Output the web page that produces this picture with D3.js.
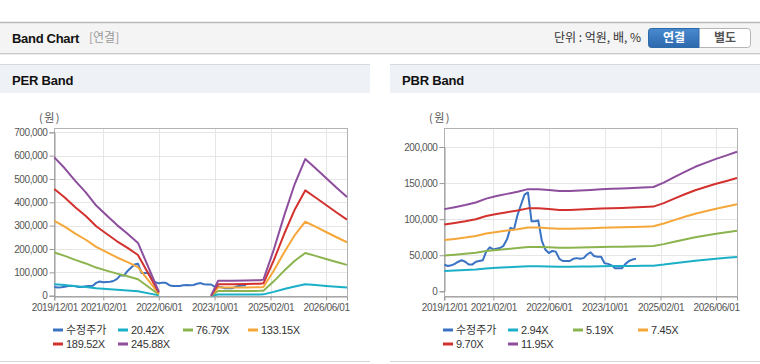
<!DOCTYPE html>
<html><head><meta charset="utf-8">
<script src="https://cdn.jsdelivr.net/npm/d3@7"></script>
<style>
body{margin:0;background:#fff;}
svg{display:block;font-family:"Liberation Sans",Arial,sans-serif;}
</style>
</head><body><svg id="c" width="760" height="364"></svg>
<script>
// ---------- DATA ----------
const priceDates = ["2019/12",
 "2020/01","2020/02","2020/03","2020/04","2020/05","2020/06","2020/07","2020/08","2020/09","2020/10","2020/11","2020/12",
 "2021/01","2021/02","2021/03","2021/04","2021/05","2021/06","2021/07","2021/08","2021/09","2021/10","2021/11","2021/12",
 "2022/01","2022/02","2022/03","2022/04","2022/05","2022/06","2022/07","2022/08","2022/09","2022/10","2022/11","2022/12",
 "2023/01","2023/02","2023/03","2023/04","2023/05","2023/06","2023/07","2023/08","2023/09","2023/10","2023/11","2023/12",
 "2024/01","2024/02","2024/03","2024/04","2024/05","2024/06","2024/07"];
// 수정주가 (원)
const priceValues = [37000,
 35000,36000,38000,41000,43000,41000,37000,37000,41000,42000,43000,55000,
 61000,58000,59000,60000,63000,72000,88000,86000,106000,120000,134000,137000,
 97000,97000,98000,70000,58000,53000,56000,55000,45000,42000,42000,42000,
 45000,46000,45000,46000,51000,54000,49000,48000,48000,39000,38000,36000,
 32000,32000,32000,38000,42000,44000,45000];

// PER band: EPS (원) per date; null = no band (negative earnings)
const perDates = ["2019/12","2020/03","2020/06","2020/09","2020/12","2021/03","2021/06","2021/09","2021/12","2022/06",
 "2022/09",
 "2023/09","2023/11","2024/03","2024/07","2024/11","2024/12","2025/03","2025/06","2025/09","2025/12","2026/03","2026/06","2026/09","2026/12"];
const perEps = [2410,2220,2000,1800,1570,1400,1230,1080,920,70,
 null,
 0,260,260,265,270,280,800,1400,1950,2380,2220,2050,1880,1720];
const perMultiples = [20.42, 76.79, 133.15, 189.52, 245.88];
const perLegend = ["수정주가","20.42X","76.79X","133.15X","189.52X","245.88X"];

// PBR band: BPS (원) per date
const pbrDates = ["2019/12","2020/03","2020/06","2020/09","2020/12","2021/03","2021/06","2021/09","2021/12",
 "2022/03","2022/06","2022/09","2022/12","2023/03","2023/06","2023/09","2023/12","2024/03","2024/06","2024/09","2024/12",
 "2025/03","2025/06","2025/09","2025/12","2026/03","2026/06","2026/09","2026/12"];
const pbrBps = [9530,9750,10000,10300,10750,11050,11300,11550,11850,
 11850,11750,11620,11620,11680,11750,11830,11880,11920,11980,12030,12100,
 12600,13250,13860,14440,14900,15360,15770,16180];
const pbrMultiples = [2.94, 5.19, 7.45, 9.70, 11.95];
const pbrLegend = ["수정주가","2.94X","5.19X","7.45X","9.70X","11.95X"];

const xTickLabels = ["2019/12/01","2021/02/01","2022/06/01","2023/10/01","2025/02/01","2026/06/01"];
const xDomainLabels = ["2019/12/01","2026/12/01"];
const perYTicks = [0,100000,200000,300000,400000,500000,600000,700000];
const pbrYTicks = [0,50000,100000,150000,200000];
const seriesColors = ["#3a72c4","#1bb0c8","#8cb44e","#f5a73a","#d2312e","#8e4e9e"];

// ---------- DRAW ----------
const svg = d3.select("#c");
const pm = d3.timeParse("%Y/%m");
const pd = d3.timeParse("%Y/%m/%d");
const KR = "'Noto Sans CJK KR',sans-serif";

// top header bar
svg.append("rect").attr("x",0).attr("y",22).attr("width",760).attr("height",31).attr("fill","#f4f4f4");
svg.append("line").attr("x1",0).attr("x2",760).attr("y1",22.5).attr("y2",22.5).attr("stroke","#b9b9b9").attr("stroke-width",1.5);
svg.append("line").attr("x1",0).attr("x2",760).attr("y1",53.5).attr("y2",53.5).attr("stroke","#c9c9c9");
svg.append("line").attr("x1",0).attr("x2",760).attr("y1",54.5).attr("y2",54.5).attr("stroke","#ececec");
svg.append("text").attr("x",12).attr("y",38).attr("dy","0.35em").attr("font-size",13).attr("font-weight","bold")
  .attr("fill","#111").attr("letter-spacing","-0.3").text("Band Chart");
svg.append("text").attr("x",89).attr("y",38).attr("dy","0.35em").attr("font-size",12).attr("fill","#999")
  .attr("font-family",KR).text("[연결]");
svg.append("text").attr("x",641).attr("y",38).attr("dy","0.35em").attr("font-size",12).attr("fill","#333")
  .attr("text-anchor","end").attr("font-family",KR).text("단위 : 억원, 배, %");

const defs = svg.append("defs");
const g1 = defs.append("linearGradient").attr("id","btn").attr("x1",0).attr("x2",0).attr("y1",0).attr("y2",1);
g1.append("stop").attr("offset","0").attr("stop-color","#4a8ad0");
g1.append("stop").attr("offset","1").attr("stop-color","#2c68ac");
svg.append("rect").attr("x",648.5).attr("y",28.5).attr("width",102).attr("height",19).attr("rx",3)
  .attr("fill","#fff").attr("stroke","#b5b5b5");
svg.append("path").attr("d","M651.5,28.5 H699 V47.5 H651.5 A3,3 0 0 1 648.5,44.5 V31.5 A3,3 0 0 1 651.5,28.5 Z")
  .attr("fill","url(#btn)").attr("stroke","#2e69aa");
svg.append("text").attr("x",674).attr("y",38).attr("dy","0.35em").attr("text-anchor","middle").attr("font-size",12)
  .attr("font-weight","bold").attr("fill","#fff").attr("font-family",KR).text("연결");
svg.append("text").attr("x",725).attr("y",38).attr("dy","0.35em").attr("text-anchor","middle").attr("font-size",12)
  .attr("font-weight","bold").attr("fill","#555").attr("font-family",KR).text("별도");

function drawPanel(x0, title, bandDates, base, multiples, legend, yTicks, yMax, yZeroPx, yMaxPx) {
  const g = svg.append("g");
  // panel header
  g.append("rect").attr("x",x0).attr("y",64).attr("width",370).attr("height",29).attr("fill","#eef2f7");
  g.append("line").attr("x1",x0).attr("x2",x0+370).attr("y1",64.5).attr("y2",64.5).attr("stroke","#d6d9de");
  g.append("text").attr("x",x0+12).attr("y",80).attr("dy","0.35em").attr("font-size",13).attr("font-weight","bold")
    .attr("fill","#111").attr("letter-spacing","-0.2").text(title);
  g.append("line").attr("x1",x0).attr("x2",x0+370).attr("y1",361.5).attr("y2",361.5).attr("stroke","#d6d6d6");

  const L = x0+54.3, R = x0+347, T = 128.3, B = 295.7;
  const x = d3.scaleTime().domain(xDomainLabels.map(pd)).range([L, R]);
  const y = d3.scaleLinear().domain([0, yMax]).range([yZeroPx, yMaxPx]);
  const xt = xTickLabels.map(pd);

  // grid
  g.append("g").selectAll("line").data(yTicks.filter(d=>d>0)).join("line")
    .attr("x1",L).attr("x2",R).attr("y1",d=>Math.round(y(d))+0.5).attr("y2",d=>Math.round(y(d))+0.5)
    .attr("stroke","#e6e6e6");
  g.append("g").selectAll("line").data(xt.slice(1)).join("line")
    .attr("x1",d=>Math.round(x(d))+0.5).attr("x2",d=>Math.round(x(d))+0.5).attr("y1",T).attr("y2",B)
    .attr("stroke","#e6e6e6");

  // frame
  g.append("rect").attr("x",Math.round(L)+0.5).attr("y",Math.round(T)+0.5)
    .attr("width",Math.round(R)-Math.round(L)).attr("height",Math.round(B)-Math.round(T))
    .attr("fill","none").attr("stroke","#b3b3b3");

  // axes
  const ya = g.append("g").attr("transform",`translate(${Math.round(L)+0.5},0)`)
    .call(d3.axisLeft(y).tickValues(yTicks).tickFormat(d3.format(",")).tickSize(5).tickPadding(2));
  const xa = g.append("g").attr("transform",`translate(0,${Math.round(B)+0.5})`)
    .call(d3.axisBottom(x).tickValues(xt).tickFormat(d3.timeFormat("%Y/%m/%d")).tickSize(4).tickPadding(3));
  [ya, xa].forEach(a => {
    a.select(".domain").attr("stroke","#9a9a9a");
    a.selectAll(".tick line").attr("stroke","#9a9a9a");
    a.selectAll("text").attr("fill","#555").attr("font-size",10).attr("letter-spacing","-0.4")
      .attr("font-family","'Liberation Sans',Arial,sans-serif");
  });
  g.append("text").attr("x",x0+50).attr("y",118).attr("dy","0.35em").attr("text-anchor","middle")
    .attr("font-size",11).attr("fill","#555").attr("letter-spacing","1.5").attr("font-family",KR).text("(원)");

  const line = d3.line().defined(d => d.v != null).x(d => x(d.t)).y(d => y(d.v));
  const series = [];
  series.push(priceDates.map((s,i) => ({t: pm(s), v: priceValues[i]})));
  multiples.forEach(m => {
    series.push(bandDates.map((s,i) => ({t: pm(s), v: base[i] == null ? null : base[i]*m})));
  });
  g.append("g").selectAll("path").data(series).join("path")
    .attr("d", line).attr("fill","none").attr("stroke",(d,i)=>seriesColors[i])
    .attr("stroke-width",2).attr("stroke-linejoin","round");

  // legend
  const lg = g.append("g").selectAll("g").data(legend).join("g")
    .attr("transform",(d,i)=>`translate(${x0+53+(i%4)*65},${330+Math.floor(i/4)*14})`);
  lg.append("line").attr("x1",0).attr("x2",10).attr("y1",0).attr("y2",0)
    .attr("stroke",(d,i)=>seriesColors[i]).attr("stroke-width",3);
  lg.append("text").attr("x",13).attr("y",0).attr("dy","0.36em").attr("font-size",11).attr("fill","#333")
    .attr("letter-spacing",d=>/[가-힣]/.test(d)?"0":"-0.3")
    .attr("font-family",d=>/[가-힣]/.test(d)?KR:"'Liberation Sans',Arial,sans-serif")
    .text(d=>d);
}

drawPanel(0, "PER Band", perDates, perEps, perMultiples, perLegend, perYTicks, 700000, 295.7, 132.3);
drawPanel(390, "PBR Band", pbrDates, pbrBps, pbrMultiples, pbrLegend, pbrYTicks, 200000, 291.3, 147.0);
</script>
</body></html>
